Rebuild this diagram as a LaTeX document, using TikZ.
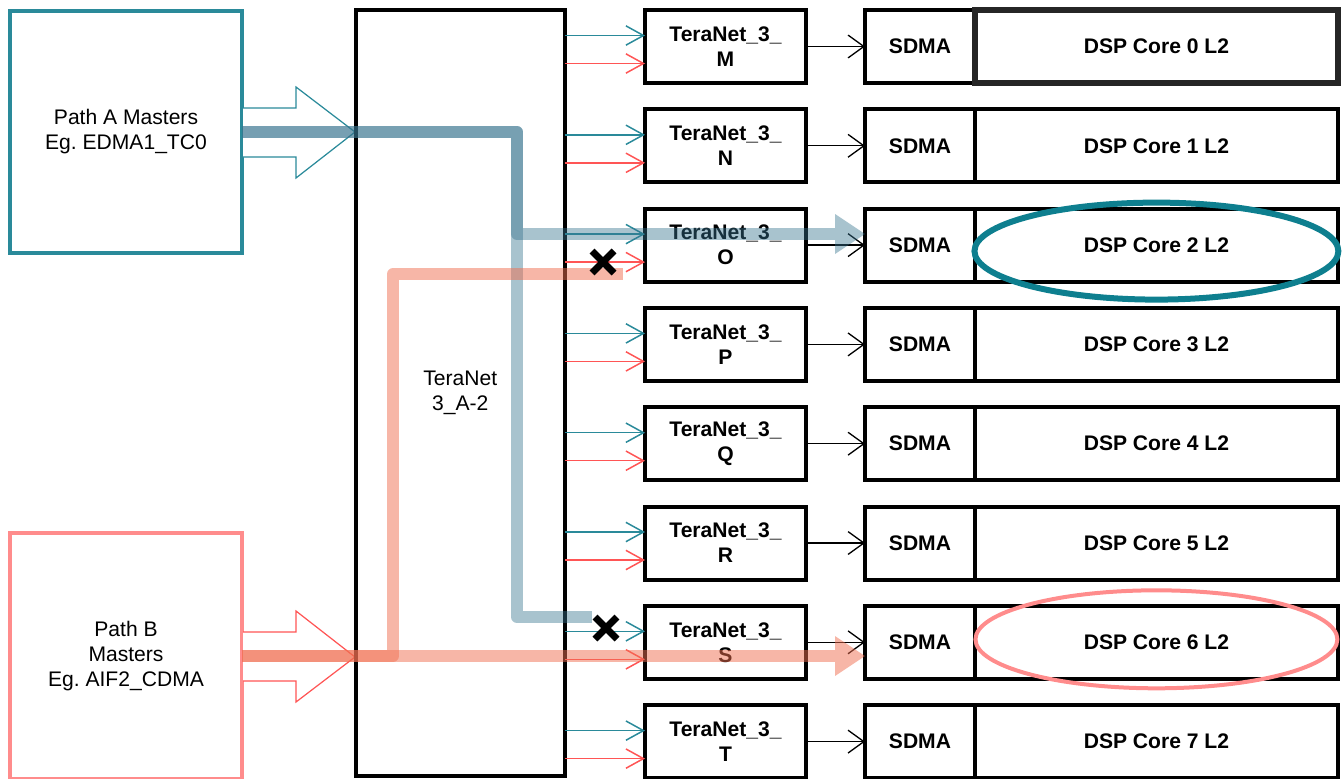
\documentclass[tikz,border=0pt]{standalone}
\usepackage{fontspec}
\setmainfont{Liberation Sans}
\usepackage{xcolor}
\usepackage{tikz}
\usetikzlibrary{arrows.meta,positioning,calc}

\definecolor{tealA}{HTML}{2A8A9A}
\definecolor{tealRing}{HTML}{0E7F8F}
\definecolor{pinkB}{HTML}{FF8C8C}
\definecolor{redB}{HTML}{FF5555}
\definecolor{steelBand}{RGB}{54,115,142}
\definecolor{salmonBand}{RGB}{240,110,80}

\begin{document}
\begin{tikzpicture}[x=0.02cm,y=-0.02cm,
  txt/.style={font=\fontsize{12}{14.2}\selectfont,align=center},
  bold/.style={font=\bfseries\fontsize{12}{14.2}\selectfont,align=center},
  master/.style={draw,line width=0.09cm,minimum width=4.64cm,inner sep=0pt,outer sep=0pt,txt},
  tnbox/.style={draw,line width=0.08cm,minimum width=3.22cm,minimum height=1.46cm,inner sep=0pt,outer sep=0pt,bold},
  sdbox/.style={draw,line width=0.08cm,minimum width=2.2cm,minimum height=1.46cm,inner sep=0pt,outer sep=0pt,bold},
  dspbox/.style={draw,line width=0.08cm,minimum width=7.26cm,minimum height=1.46cm,inner sep=0pt,outer sep=0pt,bold},
  arrA/.style={tealA,line width=0.85pt,-{Straight Barb[length=10pt,width=11pt]}},
  arrB/.style={redB,line width=0.85pt,-{Straight Barb[length=10pt,width=11pt]}},
  arrK/.style={black,line width=0.75pt,-{Straight Barb[length=9pt,width=13pt]}},
  bandA/.style={draw=steelBand,line width=0.24cm,opacity=0.43,line join=round},
  bandB/.style={draw=salmonBand,line width=0.24cm,opacity=0.5,line join=round},
  xmark/.style={line width=0.14cm}]
\useasboundingbox (0,0) rectangle (1344,778);
% Masters
\node[master,draw=tealA,minimum height=4.84cm] (pa) at (126,132) {Path A Masters\\Eg.\ EDMA1\_TC0};
\node[master,draw=pinkB,line width=0.08cm,minimum height=4.92cm] (pb) at (126,656) {Path B\\Masters\\Eg.\ AIF2\_CDMA};
% Block arrows
\draw[tealA,line width=0.7pt,fill=white] (243,108) -- (296,108) -- (296,87) -- (355,132) -- (296,178) -- (296,157) -- (243,157);
\draw[redB,line width=0.7pt,fill=white] (243,632) -- (296,632) -- (296,611) -- (355,657) -- (296,702) -- (296,681) -- (243,681);
% Interconnect
\node[draw,line width=0.08cm,minimum width=4.19cm,minimum height=15.32cm,inner sep=0pt,outer sep=0pt,txt] (xbar) at (460.25,393) {TeraNet\\3\_A-2};
% Rows
\foreach \l [count=\i from 0] in {M,N,O,P,Q,R,S,T}{
  \node[tnbox] (tn\l) at (725.5,46.5+99.3*\i) {TeraNet\_3\_\\\l};
  \node[sdbox,right=1.18cm of tn\l] (sd\l) {SDMA};
  \node[dspbox,right=0pt of sd\l] (dsp\l) {DSP Core \i\ L2};
  \coordinate (ta\l) at ([yshift=0.22cm]tn\l.west);
  \coordinate (ra\l) at ([yshift=-0.34cm]tn\l.west);
  \draw[arrA] (ta\l -| xbar.east) -- (ta\l);
  \draw[arrB] (ra\l -| xbar.east) -- (ra\l);
  \draw[arrK] (tn\l.east) -- (sd\l.west);
}
\draw[black!85,line width=0.11cm] (dspM.north west) rectangle (dspM.south east);
% Path A traffic
\coordinate (bendA) at (517,132);
\coordinate (endO) at (835,234);
\coordinate (endS) at (592,617);
\draw[bandA] (pa.east) -- (bendA) |- (endO);
\fill[steelBand,opacity=0.43] (endO) -- ++(0,-20) -- ++(30,20) -- ++(-30,20) -- cycle;
\draw[bandA] (pa.east) -- (bendA) |- (endS);
% Path B traffic
\coordinate (bendB) at (393,656);
\coordinate (endO2) at (623,274);
\coordinate (endS2) at (835,656);
\draw[bandB] (pb.east) -- (bendB) |- (endO2);
\draw[bandB] (pb.east) -- (endS2);
\fill[salmonBand,opacity=0.5] (endS2) -- ++(0,-20) -- ++(30,20) -- ++(-30,20) -- cycle;
% Blocked
\draw[xmark] (603,262) +(-11,-11) -- +(11,11) +(-11,11) -- +(11,-11);
\draw[xmark] (606,628) +(-11,-11) -- +(11,11) +(-11,11) -- +(11,-11);
% Targets
\draw[tealRing,line width=0.12cm] ([yshift=-0.12cm]dspO.center) ellipse [x radius=3.64cm,y radius=0.97cm];
\draw[pinkB,line width=0.08cm] ([yshift=0.06cm]dspS.center) ellipse [x radius=3.62cm,y radius=0.98cm];
\end{tikzpicture}
\end{document}
